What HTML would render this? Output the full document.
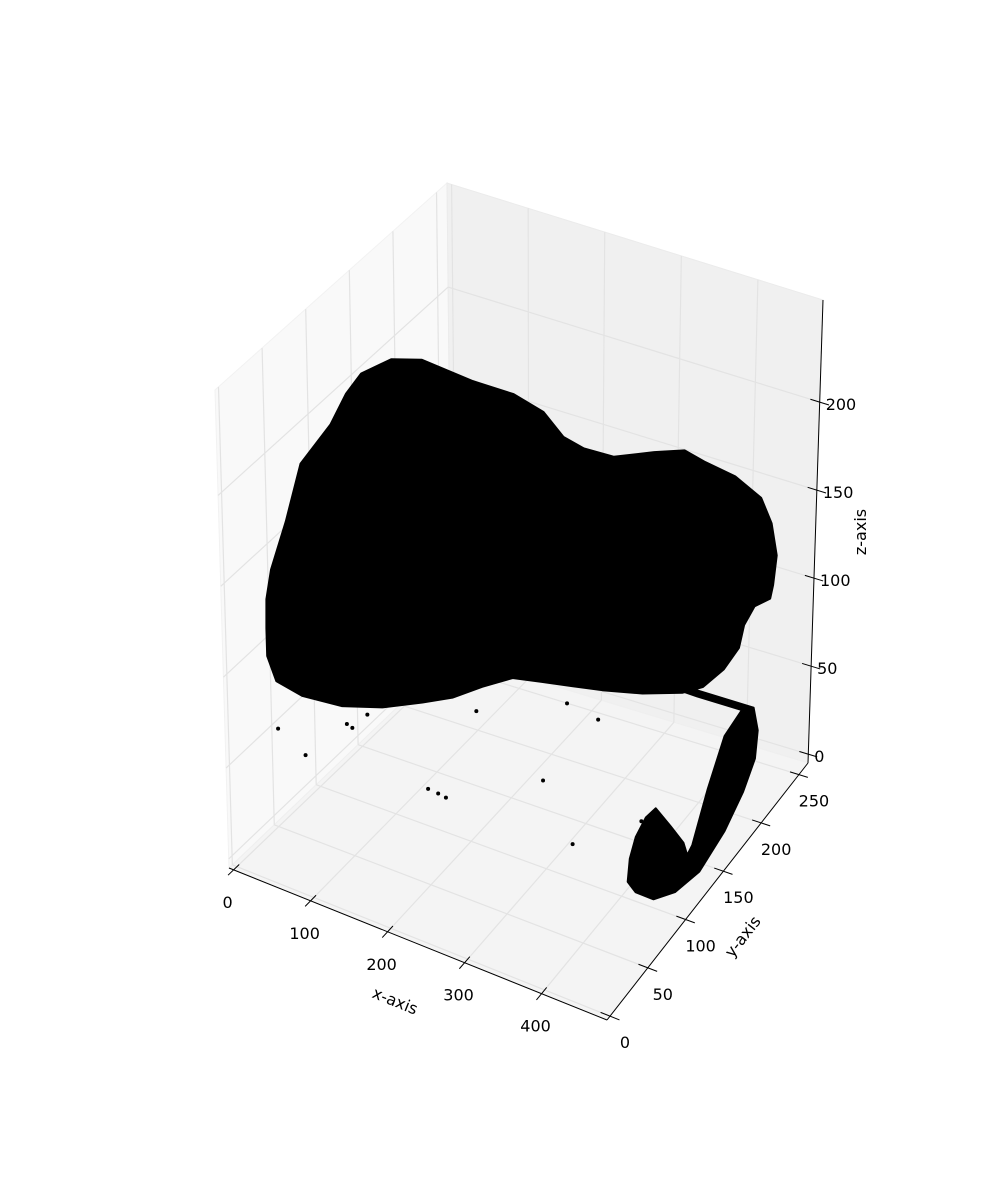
<!DOCTYPE html>
<html>
<head>
<meta charset="utf-8">
<style>
html,body{margin:0;padding:0;background:#fff;}
svg{display:block;}
text{font-family:"DejaVu Sans","Liberation Sans",sans-serif;font-size:16px;fill:#000;}
</style>
</head>
<body>
<svg id="chart" width="1000" height="1200" viewBox="0 0 1000 1200">
<rect width="1000" height="1200" fill="#fff"/>
<g id="panes"></g>
<g id="grid"></g>
<g id="axes"></g>
<g id="data"></g>
</svg>
<script>
// axis limits and ticks
const xLim = [-6, 485];
const yLim = [-4, 262];
const zLim = [-5, 258];
const xTicks = [0, 100, 200, 300, 400];
const yTicks = [0, 50, 100, 150, 200, 250];
const zTicks = [0, 50, 100, 150, 200];
// main cloud outline (data units, front slice y=0)
const blobY = 0;
const blobX = [48,49,56,77,98,138,159,179,218,257,322,374,412,437,463,502,554,593,619,657,690,703,709,704,700,680,666,659,639,612,586,534,482,443,404,366,326,287,248,196,143,92,59,48];
const blobZ = [133,149,166,195,229,255,274,287,299,303,299,298,293,283,280,280,288,293,290,287,280,269,254,239,232,226,215,203,190,178,172,165,160,157,154,151,141,130,122,112,105,103,106,118];
// hook-shaped cluster (x = 480 slice)
const hookX = 480;
const hookY = [101.5,192,198,195,180,156,123,91,63,40,30,33,41,54,66.5,85.6,102,107,113.6,133.5,154.7,176.8,119.3,101.4];
const hookZ = [117,62,46.5,32.4,22,12.9,8,13.3,23.4,38.2,48.3,58.7,66.2,70.2,69.1,50.5,33.9,24.8,26.8,47,65,68.2,103.3,114.1];
// isolated points
const dotX = [59,94,149,156,176,318,436,476,253,266,276,403,440,530];
const dotY = [0,0,0,0,0,0,0,0,0,0,0,0,0,0];
const dotZ = [80,71,96,95,105,127,147,144,77,76.5,75.8,103,75.7,100];

// projected box corners C[u][v][w]
const C = {
 '000':[229,868],'100':[607,1020],'110':[808,763],'010':[452,655],
 '001':[215,390],'101':[598,500],'111':[823,300],'011':[447,183]
};
function P(x,y,z){
  const u=(x-xLim[0])/(xLim[1]-xLim[0]), v=(y-yLim[0])/(yLim[1]-yLim[0]), w=(z-zLim[0])/(zLim[1]-zLim[0]);
  const r=[0,0];
  for(const key in C){
    const a=+key[0],b=+key[1],c=+key[2];
    const f=(a?u:1-u)*(b?v:1-v)*(c?w:1-w);
    r[0]+=f*C[key][0]; r[1]+=f*C[key][1];
  }
  return r;
}
const NS='http://www.w3.org/2000/svg';
function mk(tag,attrs,parent){const e=document.createElementNS(NS,tag);for(const k in attrs)e.setAttribute(k,attrs[k]);parent.appendChild(e);return e;}
function poly(pts){return pts.map(p=>p[0].toFixed(1)+','+p[1].toFixed(1)).join(' ');}
const [x0,x1]=xLim,[y0,y1]=yLim,[z0,z1]=zLim;
const panes=document.getElementById('panes'),grid=document.getElementById('grid'),axes=document.getElementById('axes'),data=document.getElementById('data');

let e;
e=mk('polygon',{points:poly([P(x0,y0,z0),P(x0,y1,z0),P(x0,y1,z1),P(x0,y0,z1)]),fill:'#f9f9f9',stroke:'#f2f2f2'},panes);


e=mk('polygon',{points:poly([P(x0,y1,z0),P(x1,y1,z0),P(x1,y1,z1),P(x0,y1,z1)]),fill:'#f0f0f0',stroke:'#ebebeb'},panes);


e=mk('polygon',{points:poly([P(x0,y0,z0),P(x1,y0,z0),P(x1,y1,z0),P(x0,y1,z0)]),fill:'#f4f4f4',stroke:'#efefef'},panes);



function gl(a,b,name){const l=mk('line',{x1:a[0],y1:a[1],x2:b[0],y2:b[1],stroke:'#e3e3e3','stroke-width':1.2},grid);

}
xTicks.forEach(t=>{gl(P(t,y0,z0),P(t,y1,z0),'x-gridline');gl(P(t,y1,z0),P(t,y1,z1),'x-gridline');});
yTicks.forEach(t=>{gl(P(x0,t,z0),P(x1,t,z0),'y-gridline');gl(P(x0,t,z0),P(x0,t,z1),'y-gridline');});
zTicks.forEach(t=>{gl(P(x0,y0,t),P(x0,y1,t),'z-gridline');gl(P(x0,y1,t),P(x1,y1,t),'z-gridline');});

function al(a,b,name){const l=mk('line',{x1:a[0],y1:a[1],x2:b[0],y2:b[1],stroke:'#000','stroke-width':1},axes);

}
al(P(x0,y0,z0),P(x1,y0,z0),'x-axis-line');
al(P(x1,y0,z0),P(x1,y1,z0),'y-axis-line');
al(P(x1,y1,z0),P(x1,y1,z1),'z-axis-line');
const dy=(y1-y0)*0.025,dx=(x1-x0)*0.025;
function lbl(p,txt,anchor,name){const t=mk('text',{x:p[0],y:p[1],'text-anchor':anchor},axes);t.textContent=txt;

return t;}
xTicks.forEach(t=>{al(P(t,y0-dy,z0),P(t,y0+dy,z0),'x-tick');const p=P(t,y0,z0);lbl([p[0]-6,p[1]+38],String(t),'middle','x-tick-label');});
yTicks.forEach(t=>{al(P(x1-dx,t,z0),P(x1+dx,t,z0),'y-tick');const p=P(x1,t,z0);lbl([p[0]+15,p[1]+32],String(t),'middle','y-tick-label');});
zTicks.forEach(t=>{al(P(x1-dx,y1,t),P(x1+dx,y1,t),'z-tick');const p=P(x1,y1,t);lbl([p[0]+6,p[1]+8],String(t),'start','z-tick-label');});
let tt;
tt=lbl([0,0],'x-axis','middle','x-axis-title');tt.setAttribute('transform','translate(393,1006) rotate(22)');
tt=lbl([0,0],'y-axis','middle','y-axis-title');tt.setAttribute('transform','translate(747,940) rotate(-52)');
tt=lbl([0,0],'z-axis','middle','z-axis-title');tt.setAttribute('transform','translate(866,532) rotate(-90)');

e=mk('polygon',{points:poly(blobX.map((x,i)=>P(x,blobY,blobZ[i]))),fill:'#000',stroke:'#000','stroke-width':3,'stroke-linejoin':'round'},data);


e=mk('polygon',{points:poly(hookY.map((y,i)=>P(hookX,y,hookZ[i]))),fill:'#000',stroke:'#000','stroke-width':2,'stroke-linejoin':'round'},data);


dotX.forEach((x,i)=>{const p=P(x,dotY[i],dotZ[i]);const c=mk('circle',{cx:p[0],cy:p[1],r:2,fill:'#000'},data);

});
</script>
</body>
</html>
